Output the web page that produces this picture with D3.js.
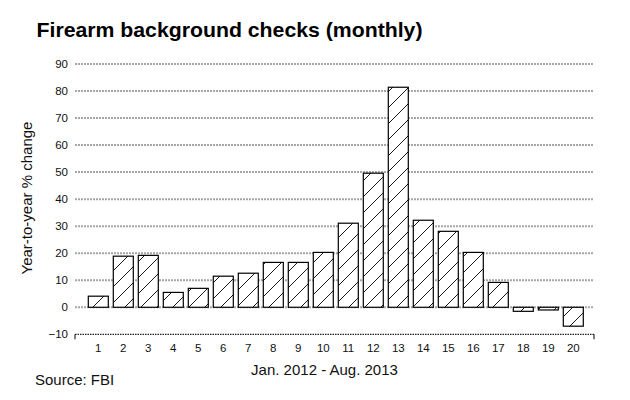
<!DOCTYPE html>
<html>
<head>
<meta charset="utf-8">
<script src="https://cdn.jsdelivr.net/npm/d3@7"></script>
<style>
  html, body { margin: 0; padding: 0; background: #fff; }
  svg { display: block; font-family: "Liberation Sans", Arial, Helvetica, sans-serif; }
</style>
</head>
<body>
<svg id="chart" width="630" height="400"></svg>
<script>
const months = [1,2,3,4,5,6,7,8,9,10,11,12,13,14,15,16,17,18,19,20];
const pctChange = [4.1,18.9,19.2,5.5,7.0,11.5,12.6,16.6,16.6,20.3,31.1,49.6,81.4,32.2,28.1,20.3,9.2,-1.5,-1.0,-7.0];
const yTicks = [-10,0,10,20,30,40,50,60,70,80,90];
const title = "Firearm background checks (monthly)";
const xTitle = "Jan. 2012 - Aug. 2013";
const yTitle = "Year-to-year % change";
const source = "Source: FBI";

const svg = d3.select("#chart");
const plotLeft = 75, plotRight = 594;

const y = d3.scaleLinear().domain([-10, 90]).range([334.3, 64]);
const x = d3.scaleLinear().domain([1, 20]).range([98.3, 573.3]);
const barW = 20;

const defs = svg.append("defs");
const pat = defs.append("pattern")
  .attr("id", "hatch").attr("patternUnits", "userSpaceOnUse")
  .attr("width", 16).attr("height", 16);
pat.append("rect").attr("width", 16).attr("height", 16).attr("fill", "#fff");
pat.append("path").attr("d", "M-4,4 L4,-4 M0,16 L16,0 M12,20 L20,12")
  .attr("stroke", "#000").attr("stroke-width", 0.9);

// gridlines
svg.append("g").selectAll("line")
  .data(yTicks.filter(d => d > -10))
  .join("line")
  .attr("x1", plotLeft).attr("x2", plotRight)
  .attr("y1", d => y(d)).attr("y2", d => y(d))
  .attr("stroke", "#a6a6a6").attr("stroke-width", 2)
  .attr("stroke-dasharray", "2,1");

// y tick labels
svg.append("g").selectAll("text")
  .data(yTicks)
  .join("text")
  .attr("x", 68).attr("y", d => y(d))
  .attr("dy", "0.35em")
  .attr("text-anchor", "end")
  .attr("font-size", 11.5).attr("fill", "#111")
  .text(d => d < 0 ? "\u2212" + Math.abs(d) : d);

// bottom axis (at -10)
const yb = y(-10);
svg.append("line")
  .attr("x1", plotLeft).attr("x2", plotRight).attr("y1", yb).attr("y2", yb)
  .attr("stroke", "#222").attr("stroke-width", 1.3).attr("stroke-dasharray", "1.5,1");
svg.append("line").attr("x1", plotLeft).attr("x2", plotLeft).attr("y1", yb).attr("y2", yb + 5)
  .attr("stroke", "#000").attr("stroke-width", 1);
svg.append("line").attr("x1", plotRight).attr("x2", plotRight).attr("y1", yb).attr("y2", yb + 5)
  .attr("stroke", "#000").attr("stroke-width", 1);

// bars
svg.append("g").selectAll("rect")
  .data(months.map((m, i) => ({m, v: pctChange[i]})))
  .join("rect")
  .attr("x", d => x(d.m) - barW / 2)
  .attr("width", barW)
  .attr("y", d => y(Math.max(0, d.v)))
  .attr("height", d => Math.abs(y(d.v) - y(0)))
  .attr("fill", "url(#hatch)")
  .attr("stroke", "#000").attr("stroke-width", 1.2);

// x tick labels
svg.append("g").selectAll("text")
  .data(months)
  .join("text")
  .attr("x", d => x(d)).attr("y", 352)
  .attr("text-anchor", "middle")
  .attr("font-size", 11.5).attr("fill", "#111")
  .text(d => d);

// titles
svg.append("text").attr("x", 36.5).attr("y", 37)
  .attr("font-size", 21).attr("font-weight", "bold").attr("fill", "#000")
  .attr("textLength", 386).attr("lengthAdjust", "spacingAndGlyphs")
  .text(title);

svg.append("text").attr("x", 324.5).attr("y", 375)
  .attr("text-anchor", "middle").attr("font-size", 15).attr("fill", "#111")
  .text(xTitle);

svg.append("text").attr("transform", "translate(31.5,198) rotate(-90)")
  .attr("text-anchor", "middle").attr("font-size", 15).attr("fill", "#111")
  .text(yTitle);

svg.append("text").attr("x", 35).attr("y", 385)
  .attr("font-size", 15).attr("fill", "#111")
  .text(source);
</script>
</body>
</html>
